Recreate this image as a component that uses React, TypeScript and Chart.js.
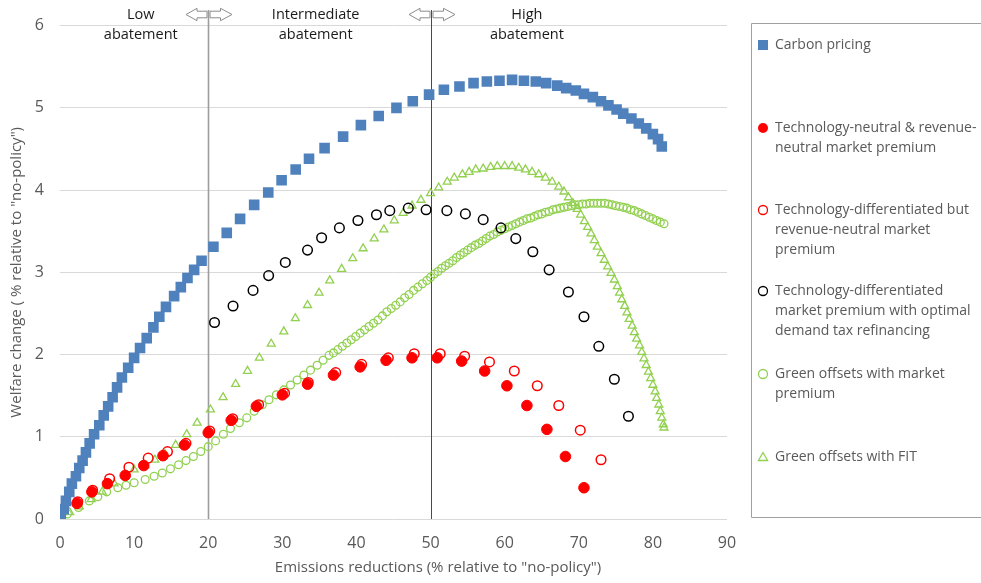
import React, { useEffect, useRef } from 'react';
import { Chart, registerables } from 'chart.js';

Chart.register(...registerables);

const FONT = '"Open Sans", "Noto Sans", sans-serif';

// Carbon pricing
const carbonX = [0.1, 0.5, 0.8, 1.25, 1.6, 2.15, 2.6, 3.05, 3.5, 4.0, 4.6, 5.3, 5.9, 6.5, 7.1, 7.7, 8.35, 9.2, 10.0, 10.8, 11.7, 12.6, 13.4, 14.3, 15.4, 16.3, 17.2, 18.1, 19.1, 20.7, 22.5, 24.3, 26.2, 28.1, 29.9, 31.8, 33.6, 35.7, 38.2, 40.6, 43.0, 45.4, 47.6, 49.8, 51.8, 53.9, 55.8, 57.6, 59.3, 61.0, 62.6, 64.2, 65.6, 67.1, 68.3, 69.6, 70.7, 71.9, 73.0, 74.0, 75.1, 76.0, 77.1, 78.1, 79.1, 80.0, 80.7, 81.2];
const carbonY = [0.02, 0.12, 0.22, 0.33, 0.43, 0.52, 0.62, 0.71, 0.81, 0.92, 1.03, 1.14, 1.26, 1.37, 1.48, 1.60, 1.72, 1.84, 1.96, 2.08, 2.20, 2.33, 2.46, 2.58, 2.71, 2.82, 2.93, 3.03, 3.14, 3.31, 3.48, 3.65, 3.82, 3.97, 4.12, 4.25, 4.38, 4.51, 4.65, 4.79, 4.90, 5.00, 5.08, 5.16, 5.22, 5.26, 5.30, 5.32, 5.33, 5.34, 5.33, 5.32, 5.30, 5.27, 5.24, 5.21, 5.17, 5.13, 5.08, 5.03, 4.98, 4.93, 4.87, 4.81, 4.75, 4.68, 4.62, 4.53];

// Technology-neutral & revenue-neutral market premium
const techNeutralX = [0, 2.3, 4.3, 6.4, 8.8, 11.3, 13.9, 16.8, 20.0, 23.1, 26.5, 30.0, 33.4, 36.9, 40.5, 44.0, 47.5, 50.9, 54.2, 57.3, 60.3, 63.0, 65.7, 68.2, 70.7];
const techNeutralY = [0, 0.19, 0.33, 0.43, 0.53, 0.65, 0.77, 0.90, 1.05, 1.20, 1.37, 1.51, 1.64, 1.75, 1.85, 1.93, 1.96, 1.96, 1.92, 1.80, 1.62, 1.38, 1.09, 0.76, 0.38];

// Technology-differentiated but revenue-neutral market premium
const techDiffX = [0, 2.4, 4.4, 6.7, 9.3, 11.9, 14.5, 17.0, 20.2, 23.3, 26.8, 30.3, 33.5, 37.2, 40.7, 44.3, 47.8, 51.3, 54.6, 57.95, 61.3, 64.4, 67.3, 70.2, 73.0];
const techDiffY = [0, 0.21, 0.35, 0.49, 0.63, 0.74, 0.82, 0.92, 1.07, 1.22, 1.39, 1.53, 1.66, 1.78, 1.88, 1.96, 2.01, 2.01, 1.98, 1.91, 1.80, 1.62, 1.38, 1.08, 0.72];

// Technology-differentiated market premium with optimal demand tax refinancing
const demandTaxX = [20.85, 23.35, 26.05, 28.15, 30.4, 33.4, 35.3, 37.7, 40.2, 42.7, 44.5, 47.0, 49.4, 52.2, 54.7, 57.1, 59.5, 61.5, 63.8, 66.0, 68.6, 70.7, 72.7, 74.8, 76.7];
const demandTaxY = [2.39, 2.59, 2.78, 2.96, 3.12, 3.27, 3.42, 3.54, 3.63, 3.70, 3.75, 3.78, 3.76, 3.75, 3.71, 3.64, 3.54, 3.41, 3.25, 3.03, 2.76, 2.46, 2.10, 1.70, 1.25];

// Green offsets with market premium
const offsetMpX = [0, 1.0, 2.5, 3.95, 5.1, 6.3, 7.8, 8.9, 10.0, 11.5, 12.7, 13.8, 14.9, 16.0, 17.0, 18.0, 19.0, 20.0, 21.0, 22.05, 23.0, 24.2, 25.2, 26.2, 27.3, 28.2, 29.2, 30.2, 31.1, 32.0, 32.9, 33.8, 34.7, 35.5, 36.3, 36.9, 37.5, 38.1, 38.7, 39.3, 39.9, 40.5, 41.1, 41.7, 42.3, 42.9, 43.5, 44.1, 44.7, 45.3, 45.9, 46.5, 47.1, 47.7, 48.3, 48.9, 49.5, 50.0, 50.5, 51, 51.5, 52, 52.5, 53, 53.5, 54, 54.5, 55, 55.5, 56, 56.5, 57, 57.5, 58, 58.5, 59, 59.5, 60, 60.5, 61, 61.5, 62, 62.5, 63, 63.5, 64, 64.5, 65, 65.5, 66, 66.5, 67, 67.5, 68, 68.5, 69, 69.5, 70, 70.5, 71, 71.5, 72, 72.5, 73, 73.5, 74, 74.5, 75, 75.5, 76, 76.5, 77, 77.5, 78, 78.5, 79, 79.5, 80, 80.5, 81, 81.5];
const offsetMpY = [0, 0.06, 0.14, 0.22, 0.27, 0.33, 0.38, 0.41, 0.44, 0.48, 0.52, 0.56, 0.61, 0.66, 0.71, 0.76, 0.82, 0.88, 0.95, 1.03, 1.10, 1.17, 1.23, 1.31, 1.39, 1.45, 1.51, 1.57, 1.63, 1.69, 1.75, 1.81, 1.87, 1.93, 1.99, 2.02, 2.06, 2.10, 2.14, 2.18, 2.22, 2.26, 2.30, 2.34, 2.38, 2.42, 2.47, 2.52, 2.56, 2.60, 2.64, 2.69, 2.73, 2.78, 2.82, 2.86, 2.90, 2.94, 2.98, 3.01, 3.05, 3.08, 3.11, 3.14, 3.18, 3.21, 3.24, 3.27, 3.30, 3.33, 3.35, 3.38, 3.41, 3.44, 3.46, 3.49, 3.51, 3.53, 3.55, 3.57, 3.59, 3.61, 3.63, 3.65, 3.66, 3.68, 3.70, 3.71, 3.73, 3.74, 3.76, 3.77, 3.78, 3.79, 3.80, 3.81, 3.82, 3.82, 3.83, 3.83, 3.84, 3.84, 3.84, 3.84, 3.84, 3.83, 3.82, 3.81, 3.80, 3.79, 3.78, 3.76, 3.75, 3.73, 3.71, 3.69, 3.67, 3.65, 3.63, 3.61, 3.59];

// Green offsets with FIT
const offsetFitX = [0, 1.3, 2.6, 4.2, 5.7, 7.3, 8.75, 10.0, 11.45, 12.8, 14.15, 15.6, 17.1, 18.5, 20.3, 22.0, 23.7, 25.3, 26.9, 28.5, 30.2, 31.75, 33.4, 34.95, 36.4, 38.0, 39.5, 40.9, 42.4, 43.7, 45.1, 46.3, 47.5, 48.7, 50.0, 51.1, 52.25, 53.2, 54.3, 55.2, 56.1, 57.1, 58.1, 59.0, 60.0, 61.0, 61.9, 62.8, 63.7, 64.6, 65.5, 66.4, 67.3, 68.0, 68.6, 69.2, 69.8, 70.25, 70.75, 71.2, 71.65, 72.1, 72.5, 73.0, 73.45, 73.9, 74.35, 74.8, 75.2, 75.5, 75.8, 76.2, 76.5, 76.8, 77.2, 77.5, 77.8, 78.2, 78.5, 78.8, 79.1, 79.4, 79.7, 80.0, 80.3, 80.5, 80.8, 81.0, 81.2, 81.4, 81.5];
const offsetFitY = [0.01, 0.08, 0.15, 0.24, 0.33, 0.43, 0.53, 0.60, 0.65, 0.72, 0.79, 0.90, 1.03, 1.17, 1.33, 1.48, 1.64, 1.80, 1.96, 2.13, 2.28, 2.44, 2.60, 2.75, 2.90, 3.04, 3.17, 3.29, 3.41, 3.52, 3.63, 3.72, 3.81, 3.88, 3.96, 4.03, 4.10, 4.15, 4.19, 4.22, 4.25, 4.26, 4.28, 4.29, 4.29, 4.29, 4.27, 4.25, 4.22, 4.19, 4.15, 4.10, 4.04, 3.98, 3.91, 3.84, 3.77, 3.70, 3.62, 3.55, 3.47, 3.39, 3.31, 3.23, 3.15, 3.07, 2.99, 2.91, 2.83, 2.75, 2.67, 2.59, 2.51, 2.43, 2.35, 2.27, 2.19, 2.11, 2.03, 1.95, 1.87, 1.79, 1.71, 1.63, 1.55, 1.47, 1.39, 1.31, 1.23, 1.15, 1.11];

const seriesLabels = [
  ['Carbon pricing'],
  ['Technology-neutral & revenue-', 'neutral market premium'],
  ['Technology-differentiated but', 'revenue-neutral market', 'premium'],
  ['Technology-differentiated', 'market premium with optimal', 'demand tax refinancing'],
  ['Green offsets with market', 'premium'],
  ['Green offsets with FIT'],
];

const regionBoundaries = [20, 50];
const regionLabels = [
  ['Low', 'abatement'],
  ['Intermediate', 'abatement'],
  ['High', 'abatement'],
];
const regionCenters = [10.9, 34.5, 63.0];

const xTitle = 'Emissions reductions (% relative to "no-policy")';
const yTitle = 'Welfare change ( % relative to "no-policy")';

const BLUE = '#4F81BD';
const RED = '#FF0000';
const GREEN = '#92D050';
const TXT = '#595959';

const pts = (xs: number[], ys: number[]) => xs.map((x, i) => ({ x, y: ys[i] }));

function drawMarker(ctx: CanvasRenderingContext2D, kind: number, cx: number, cy: number) {
  ctx.save();
  ctx.lineWidth = 1.3;
  ctx.beginPath();
  if (kind === 0) {
    ctx.fillStyle = BLUE;
    ctx.fillRect(cx - 5, cy - 5, 10, 10);
  } else if (kind === 1) {
    ctx.fillStyle = RED;
    ctx.arc(cx, cy, 5, 0, Math.PI * 2);
    ctx.fill();
  } else if (kind === 2 || kind === 3 || kind === 4) {
    ctx.strokeStyle = kind === 2 ? RED : kind === 3 ? '#000' : GREEN;
    ctx.arc(cx, cy, 4.5, 0, Math.PI * 2);
    ctx.stroke();
  } else {
    ctx.strokeStyle = GREEN;
    ctx.moveTo(cx, cy - 4.5);
    ctx.lineTo(cx + 4.6, cy + 3.5);
    ctx.lineTo(cx - 4.6, cy + 3.5);
    ctx.closePath();
    ctx.stroke();
  }
  ctx.restore();
}

function drawArrow(ctx: CanvasRenderingContext2D, base: number, tip: number, headBase: number, cy: number) {
  ctx.beginPath();
  ctx.moveTo(base, cy - 3.3);
  ctx.lineTo(headBase, cy - 3.3);
  ctx.lineTo(headBase, cy - 6.2);
  ctx.lineTo(tip, cy);
  ctx.lineTo(headBase, cy + 6.2);
  ctx.lineTo(headBase, cy + 3.3);
  ctx.lineTo(base, cy + 3.3);
  ctx.closePath();
  ctx.fillStyle = '#fff';
  ctx.fill();
  ctx.strokeStyle = '#8c8c8c';
  ctx.lineWidth = 1;
  ctx.stroke();
}

const overlayPlugin = {
  id: 'overlay',
  beforeDatasetsDraw(chart: any) {
    const { ctx, scales, chartArea } = chart;
    ctx.save();
    regionBoundaries.forEach((b, i) => {
      const px = Math.round(scales.x.getPixelForValue(b)) + 0.5;
      ctx.strokeStyle = i === 0 ? '#9d9d9d' : '#4a4a4a';
      ctx.lineWidth = i === 0 ? 1.6 : 1;
      ctx.beginPath();
      ctx.moveTo(px, 10);
      ctx.lineTo(px, chartArea.bottom);
      ctx.stroke();
    });
    ctx.restore();
  },
  afterDraw(chart: any) {
    const { ctx, scales, chartArea } = chart;
    ctx.save();
    regionBoundaries.forEach((b) => {
      const bx = Math.round(scales.x.getPixelForValue(b)) + 0.5;
      drawArrow(ctx, bx - 1.5, bx - 22.5, bx - 11.5, 14.5);
      drawArrow(ctx, bx + 1.5, bx + 23.5, bx + 12, 14.5);
    });
    ctx.fillStyle = '#1a1a1a';
    ctx.font = `14.5px ${FONT}`;
    ctx.textAlign = 'center';
    ctx.textBaseline = 'middle';
    regionLabels.forEach((lines, i) => {
      const cx = scales.x.getPixelForValue(regionCenters[i]);
      lines.forEach((l, j) => ctx.fillText(l, cx, 15 + j * 19.5));
    });
    ctx.fillStyle = TXT;
    ctx.font = `15px ${FONT}`;
    ctx.fillText(xTitle, 438, 568);
    ctx.save();
    ctx.translate(17, (chartArea.top + chartArea.bottom) / 2);
    ctx.rotate(-Math.PI / 2);
    ctx.fillText(yTitle, 0, 0);
    ctx.restore();
    ctx.strokeStyle = '#a0a0a0';
    ctx.lineWidth = 1;
    ctx.beginPath();
    ctx.moveTo(990, 23.5);
    ctx.lineTo(751.5, 23.5);
    ctx.lineTo(751.5, 517.5);
    ctx.lineTo(990, 517.5);
    ctx.stroke();
    const firstLineY = [45, 128, 210, 291, 374, 457];
    ctx.textAlign = 'left';
    ctx.font = `14px ${FONT}`;
    seriesLabels.forEach((lines, i) => {
      drawMarker(ctx, i, 763, firstLineY[i]);
      ctx.fillStyle = TXT;
      lines.forEach((l, j) => ctx.fillText(l, 775, firstLineY[i] + j * 20.2));
    });
    ctx.restore();
  },
};

export default function App() {
  const ref = useRef<HTMLCanvasElement>(null);
  useEffect(() => {
    if (!ref.current) return;
    const transparent = 'rgba(0,0,0,0)';
    const chart = new Chart(ref.current, {
      type: 'scatter',
      data: {
        datasets: [
          { label: seriesLabels[0].join(' '), data: pts(carbonX, carbonY), pointStyle: 'rect', pointRadius: 7.5, backgroundColor: BLUE, borderColor: BLUE, borderWidth: 0 },
          { label: seriesLabels[1].join(' '), data: pts(techNeutralX, techNeutralY), pointStyle: 'circle', pointRadius: 5.3, backgroundColor: RED, borderColor: RED, borderWidth: 1 },
          { label: seriesLabels[2].join(' '), data: pts(techDiffX, techDiffY), pointStyle: 'circle', pointRadius: 4.8, backgroundColor: transparent, borderColor: RED, borderWidth: 1.5 },
          { label: seriesLabels[3].join(' '), data: pts(demandTaxX, demandTaxY), pointStyle: 'circle', pointRadius: 4.8, backgroundColor: transparent, borderColor: '#000', borderWidth: 1.5 },
          { label: seriesLabels[4].join(' '), data: pts(offsetMpX, offsetMpY), pointStyle: 'circle', pointRadius: 3.9, backgroundColor: transparent, borderColor: GREEN, borderWidth: 1.3 },
          { label: seriesLabels[5].join(' '), data: pts(offsetFitX, offsetFitY), pointStyle: 'triangle', pointRadius: 4.6, backgroundColor: transparent, borderColor: GREEN, borderWidth: 1.3 },
        ],
      },
      options: {
        animation: false,
        responsive: false,
        devicePixelRatio: 1,
        layout: { padding: { left: 0, right: 254, top: 19, bottom: 0 } },
        plugins: { legend: { display: false }, tooltip: { enabled: false } },
        scales: {
          x: {
            type: 'linear',
            min: 0,
            max: 90,
            ticks: { stepSize: 10, color: TXT, font: { family: FONT, size: 16 }, padding: 15 },
            grid: { display: false, drawTicks: false },
            border: { display: false },
            afterFit: (s: any) => { s.height = 64; },
          },
          y: {
            min: 0,
            max: 6,
            ticks: { stepSize: 1, color: TXT, font: { family: FONT, size: 16 }, padding: 16 },
            grid: { color: '#D9D9D9', lineWidth: 1, drawTicks: false },
            border: { display: false },
            afterFit: (s: any) => { s.width = 60; },
          },
        },
      },
      plugins: [overlayPlugin],
    } as any);
    return () => chart.destroy();
  }, []);
  return (
    <div style={{ position: 'absolute', left: 0, top: 0, width: 981, height: 583, background: '#fff' }}>
      <canvas ref={ref} width={981} height={583} style={{ width: 981, height: 583, display: 'block' }} />
    </div>
  );
}
